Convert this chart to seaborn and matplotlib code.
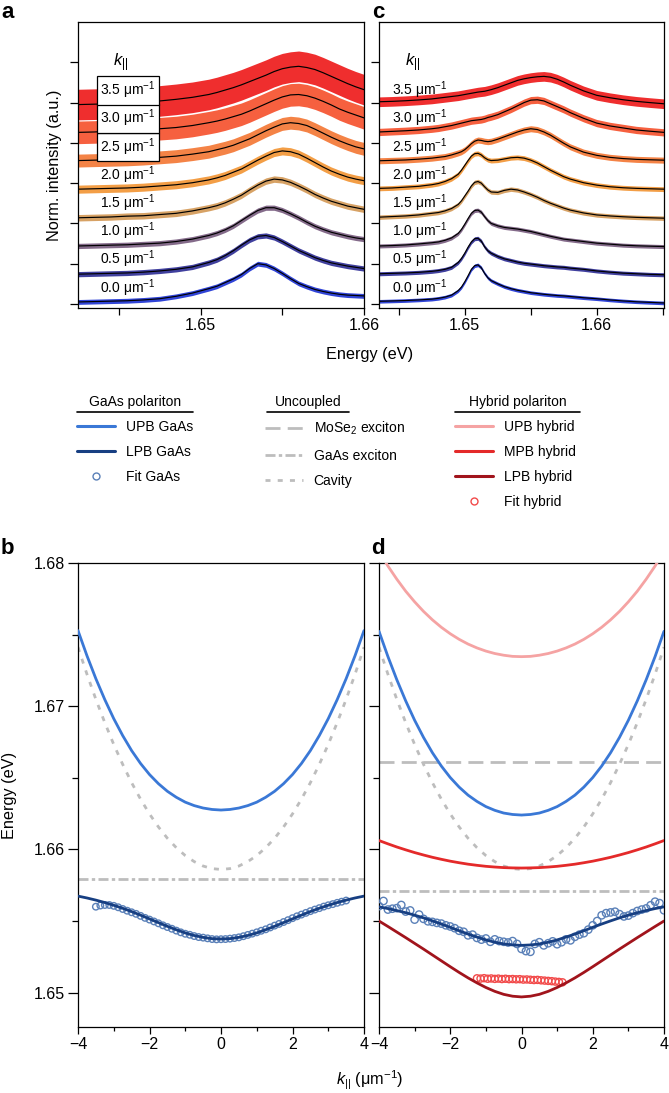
import numpy as np
import matplotlib
matplotlib.use("Agg")
import matplotlib.pyplot as plt
from matplotlib.lines import Line2D
from matplotlib.ticker import MultipleLocator, FormatStrFormatter
from matplotlib.transforms import blended_transform_factory
import seaborn as sns

sns.set_theme(style="ticks")
plt.rcParams["font.family"] = ["Liberation Sans", "DejaVu Sans"]
plt.rcParams["mathtext.fontset"] = "custom"
plt.rcParams["mathtext.rm"] = "Liberation Sans"
plt.rcParams["mathtext.it"] = "Liberation Sans:italic"
plt.rcParams["mathtext.bf"] = "Liberation Sans:bold"
plt.rcParams["axes.unicode_minus"] = True
for key in ("text.color", "axes.labelcolor", "xtick.color", "ytick.color", "axes.edgecolor"):
    plt.rcParams[key] = "black"

# ---------------- data: spectra (panel a, GaAs polariton) ----------------
k_values = ["0.0", "0.5", "1.0", "1.5", "2.0", "2.5", "3.0", "3.5"]
energy_a = [1.6425, 1.6435, 1.6445, 1.6455, 1.6465, 1.6475, 1.6485, 1.6495, 1.6505, 1.6510,
            1.6515, 1.6520, 1.6525, 1.6530, 1.6535, 1.6540, 1.6545, 1.6550, 1.6555, 1.6560,
            1.6565, 1.6570, 1.6575, 1.6580, 1.6585, 1.6590, 1.6595, 1.6600]
spec_a_00 = [0.05, 0.06, 0.07, 0.08, 0.10, 0.13, 0.19, 0.27, 0.38, 0.44, 0.53, 0.62, 0.73, 0.88, 1.00,
             0.97, 0.88, 0.76, 0.63, 0.51, 0.43, 0.36, 0.31, 0.27, 0.24, 0.22, 0.21, 0.20]
spec_a_05 = [0.04, 0.05, 0.06, 0.07, 0.09, 0.12, 0.16, 0.22, 0.33, 0.40, 0.50, 0.62, 0.76, 0.89, 0.98,
             1.00, 0.95, 0.85, 0.74, 0.63, 0.54, 0.45, 0.38, 0.32, 0.28, 0.24, 0.21, 0.18]
spec_a_10 = [0.04, 0.05, 0.06, 0.07, 0.09, 0.11, 0.15, 0.21, 0.30, 0.36, 0.44, 0.54, 0.67, 0.80, 0.92,
             0.99, 0.99, 0.93, 0.84, 0.74, 0.63, 0.53, 0.45, 0.38, 0.33, 0.28, 0.24, 0.21]
spec_a_15 = [0.04, 0.05, 0.06, 0.08, 0.09, 0.12, 0.15, 0.21, 0.29, 0.34, 0.41, 0.50, 0.60, 0.73, 0.85,
             0.95, 1.00, 0.98, 0.92, 0.83, 0.73, 0.62, 0.53, 0.45, 0.39, 0.33, 0.29, 0.25]
spec_a_20 = [0.05, 0.06, 0.07, 0.08, 0.10, 0.13, 0.16, 0.21, 0.28, 0.33, 0.39, 0.47, 0.55, 0.66, 0.77,
             0.87, 0.96, 1.00, 0.98, 0.92, 0.82, 0.71, 0.60, 0.50, 0.42, 0.35, 0.30, 0.26]
spec_a_25 = [0.06, 0.07, 0.08, 0.09, 0.11, 0.14, 0.17, 0.22, 0.28, 0.33, 0.38, 0.44, 0.52, 0.60, 0.70,
             0.80, 0.89, 0.97, 1.00, 0.98, 0.93, 0.84, 0.74, 0.64, 0.55, 0.47, 0.40, 0.35]
spec_a_30 = [0.06, 0.07, 0.09, 0.10, 0.12, 0.15, 0.18, 0.23, 0.30, 0.34, 0.39, 0.45, 0.51, 0.59, 0.68,
             0.77, 0.86, 0.94, 0.99, 1.00, 0.97, 0.91, 0.83, 0.74, 0.64, 0.56, 0.49, 0.42]
spec_a_35 = [0.05, 0.06, 0.07, 0.09, 0.11, 0.14, 0.18, 0.23, 0.30, 0.35, 0.41, 0.47, 0.54, 0.62, 0.70,
             0.78, 0.87, 0.94, 0.98, 1.00, 0.97, 0.92, 0.84, 0.75, 0.66, 0.57, 0.49, 0.42]
noise_a = [0.06, 0.065, 0.065, 0.08, 0.10, 0.16, 0.28, 0.38]

# ---------------- data: spectra (panel c, hybrid polariton) ----------------
energy_c = [1.6435, 1.6445, 1.6455, 1.6465, 1.6475, 1.6480, 1.6485, 1.6490, 1.6495, 1.64975,
            1.6500, 1.65025, 1.6505, 1.65075, 1.6510, 1.65125, 1.6515, 1.65175, 1.6520, 1.6525,
            1.6530, 1.6535, 1.6540, 1.6545, 1.6550, 1.6555, 1.6560, 1.6565, 1.6570, 1.6575,
            1.6580, 1.6590, 1.6600, 1.6610, 1.6620, 1.6630, 1.6640, 1.6651]
spec_c_00 = [0.066, 0.075, 0.085, 0.10, 0.12, 0.14, 0.17, 0.22, 0.33, 0.42, 0.55, 0.70, 0.86, 0.95, 0.97,
             0.90, 0.76, 0.65, 0.58, 0.50, 0.43, 0.38, 0.34, 0.31, 0.28, 0.26, 0.24, 0.225, 0.21, 0.20,
             0.185, 0.155, 0.13, 0.10, 0.075, 0.055, 0.04, 0.025]
spec_c_05 = [0.05, 0.06, 0.07, 0.085, 0.11, 0.13, 0.16, 0.21, 0.33, 0.43, 0.56, 0.71, 0.84, 0.92, 0.93,
             0.86, 0.72, 0.62, 0.56, 0.48, 0.42, 0.38, 0.34, 0.31, 0.29, 0.27, 0.25, 0.235, 0.22, 0.21,
             0.19, 0.16, 0.12, 0.09, 0.065, 0.05, 0.035, 0.025]
spec_c_10 = [0.04, 0.05, 0.065, 0.09, 0.12, 0.14, 0.18, 0.24, 0.35, 0.45, 0.58, 0.72, 0.85, 0.92, 0.93,
             0.88, 0.77, 0.67, 0.60, 0.54, 0.50, 0.48, 0.46, 0.43, 0.40, 0.36, 0.32, 0.28, 0.245, 0.21,
             0.19, 0.15, 0.11, 0.085, 0.06, 0.045, 0.035, 0.025]
spec_c_15 = [0.055, 0.07, 0.085, 0.11, 0.15, 0.17, 0.21, 0.27, 0.37, 0.46, 0.58, 0.70, 0.83, 0.92, 0.94,
             0.90, 0.81, 0.73, 0.68, 0.67, 0.72, 0.75, 0.73, 0.68, 0.62, 0.55, 0.47, 0.40, 0.34, 0.28,
             0.23, 0.16, 0.11, 0.085, 0.065, 0.05, 0.04, 0.03]
spec_c_20 = [0.07, 0.08, 0.10, 0.12, 0.16, 0.19, 0.24, 0.31, 0.42, 0.52, 0.64, 0.76, 0.87, 0.93, 0.94,
             0.90, 0.83, 0.78, 0.76, 0.77, 0.80, 0.83, 0.84, 0.82, 0.77, 0.70, 0.61, 0.52, 0.44, 0.36,
             0.30, 0.21, 0.15, 0.11, 0.085, 0.07, 0.06, 0.05]
spec_c_25 = [0.055, 0.065, 0.075, 0.095, 0.12, 0.14, 0.16, 0.20, 0.25, 0.28, 0.33, 0.40, 0.48, 0.54, 0.57,
             0.56, 0.54, 0.53, 0.54, 0.59, 0.65, 0.71, 0.77, 0.82, 0.85, 0.83, 0.77, 0.69, 0.59, 0.49,
             0.40, 0.27, 0.19, 0.14, 0.11, 0.09, 0.08, 0.07]
spec_c_30 = [0.07, 0.085, 0.10, 0.12, 0.15, 0.17, 0.20, 0.23, 0.27, 0.29, 0.31, 0.33, 0.35, 0.36, 0.37,
             0.38, 0.40, 0.43, 0.45, 0.50, 0.57, 0.64, 0.72, 0.80, 0.86, 0.87, 0.84, 0.77, 0.70, 0.63,
             0.55, 0.41, 0.29, 0.22, 0.17, 0.12, 0.09, 0.06]
spec_c_35 = [0.12, 0.13, 0.145, 0.165, 0.19, 0.21, 0.23, 0.25, 0.27, 0.285, 0.30, 0.315, 0.33, 0.345, 0.36,
             0.37, 0.38, 0.40, 0.42, 0.47, 0.53, 0.59, 0.65, 0.69, 0.72, 0.74, 0.75, 0.73, 0.68, 0.61,
             0.53, 0.39, 0.28, 0.22, 0.17, 0.13, 0.10, 0.07]
noise_c = [0.045, 0.05, 0.05, 0.055, 0.06, 0.075, 0.09, 0.12]

# ---------------- data: dispersions (panels b, d) ----------------
k_grid = [-4.0, -3.75, -3.5, -3.25, -3.0, -2.75, -2.5, -2.25, -2.0, -1.75, -1.5, -1.25, -1.0,
          -0.75, -0.5, -0.25, 0.0, 0.25, 0.5, 0.75, 1.0, 1.25, 1.5, 1.75, 2.0, 2.25, 2.5, 2.75,
          3.0, 3.25, 3.5, 3.75, 4.0]
cavity = [1.67412, 1.67224, 1.67048, 1.66885, 1.66733, 1.66594, 1.66466, 1.66351, 1.66248, 1.66157,
          1.66078, 1.66012, 1.65957, 1.65915, 1.65884, 1.65866, 1.65860, 1.65866, 1.65884, 1.65915,
          1.65957, 1.66012, 1.66078, 1.66157, 1.66248, 1.66351, 1.66466, 1.66594, 1.66733, 1.66885,
          1.67048, 1.67224, 1.67412]
upb_gaas_b = [1.67528, 1.67353, 1.67192, 1.67046, 1.66913, 1.66795, 1.66690, 1.66600, 1.66523, 1.66459,
              1.66406, 1.66364, 1.66330, 1.66306, 1.66289, 1.66279, 1.66275, 1.66279, 1.66289, 1.66306,
              1.66330, 1.66364, 1.66406, 1.66459, 1.66523, 1.66600, 1.66690, 1.66795, 1.66913, 1.67046,
              1.67192, 1.67353, 1.67528]
lpb_gaas_b = [1.65674, 1.65661, 1.65646, 1.65629, 1.65610, 1.65589, 1.65566, 1.65541, 1.65515, 1.65489,
              1.65463, 1.65439, 1.65417, 1.65399, 1.65386, 1.65377, 1.65375, 1.65377, 1.65386, 1.65399,
              1.65417, 1.65439, 1.65463, 1.65489, 1.65515, 1.65541, 1.65566, 1.65589, 1.65610, 1.65629,
              1.65646, 1.65661, 1.65674]
upb_gaas_d = [1.67523, 1.67347, 1.67185, 1.67037, 1.66902, 1.66782, 1.66675, 1.66582, 1.66502, 1.66435,
              1.66379, 1.66335, 1.66299, 1.66273, 1.66254, 1.66244, 1.66240, 1.66244, 1.66254, 1.66273,
              1.66299, 1.66335, 1.66379, 1.66435, 1.66502, 1.66582, 1.66675, 1.66782, 1.66902, 1.67037,
              1.67185, 1.67347, 1.67523]
lpb_gaas_d = [1.65599, 1.65587, 1.65573, 1.65558, 1.65541, 1.65522, 1.65501, 1.65479, 1.65456, 1.65432,
              1.65409, 1.65388, 1.65368, 1.65352, 1.65340, 1.65333, 1.65330, 1.65333, 1.65340, 1.65352,
              1.65368, 1.65388, 1.65409, 1.65432, 1.65456, 1.65479, 1.65501, 1.65522, 1.65541, 1.65558,
              1.65573, 1.65587, 1.65599]
upb_hybrid = [1.68082, 1.67979, 1.67887, 1.67803, 1.67729, 1.67662, 1.67603, 1.67551, 1.67506, 1.67467,
              1.67434, 1.67407, 1.67385, 1.67368, 1.67356, 1.67348, 1.67346, 1.67348, 1.67356, 1.67368,
              1.67385, 1.67407, 1.67434, 1.67467, 1.67506, 1.67551, 1.67603, 1.67662, 1.67729, 1.67803,
              1.67887, 1.67979, 1.68082]
mpb_hybrid = [1.66062, 1.66039, 1.66017, 1.65997, 1.65978, 1.65961, 1.65945, 1.65931, 1.65918, 1.65907,
              1.65897, 1.65889, 1.65882, 1.65877, 1.65873, 1.65871, 1.65870, 1.65871, 1.65873, 1.65877,
              1.65882, 1.65889, 1.65897, 1.65907, 1.65918, 1.65931, 1.65945, 1.65961, 1.65978, 1.65997,
              1.66017, 1.66039, 1.66062]
lpb_hybrid = [1.65500, 1.65462, 1.65423, 1.65384, 1.65344, 1.65304, 1.65263, 1.65222, 1.65181, 1.65141,
              1.65103, 1.65068, 1.65036, 1.65009, 1.64988, 1.64975, 1.64970, 1.64975, 1.64988, 1.65009,
              1.65036, 1.65068, 1.65103, 1.65141, 1.65181, 1.65222, 1.65263, 1.65304, 1.65344, 1.65384,
              1.65423, 1.65462, 1.65500]
gaas_exciton_b = 1.6579
gaas_exciton_d = 1.6571
mose2_exciton_d = 1.6661

k_fit_b = [-3.5, -3.375, -3.25, -3.125, -3.0, -2.875, -2.75, -2.625, -2.5, -2.375, -2.25, -2.125,
           -2.0, -1.875, -1.75, -1.625, -1.5, -1.375, -1.25, -1.125, -1.0, -0.875, -0.75, -0.625,
           -0.5, -0.375, -0.25, -0.125, 0.0, 0.125, 0.25, 0.375, 0.5, 0.625, 0.75, 0.875, 1.0,
           1.125, 1.25, 1.375, 1.5, 1.625, 1.75, 1.875, 2.0, 2.125, 2.25, 2.375, 2.5, 2.625, 2.75,
           2.875, 3.0, 3.125, 3.25, 3.375, 3.5]
fit_gaas_b = [1.65600, 1.65608, 1.65612, 1.65612, 1.65606, 1.65596, 1.65584, 1.65572, 1.65561, 1.65550,
              1.65536, 1.65522, 1.65510, 1.65497, 1.65484, 1.65470, 1.65458, 1.65446, 1.65433, 1.65421,
              1.65411, 1.65404, 1.65395, 1.65388, 1.65384, 1.65379, 1.65374, 1.65372, 1.65373, 1.65374,
              1.65377, 1.65381, 1.65386, 1.65394, 1.65403, 1.65412, 1.65421, 1.65432, 1.65442, 1.65455,
              1.65468, 1.65480, 1.65493, 1.65506, 1.65520, 1.65533, 1.65545, 1.65557, 1.65569, 1.65580,
              1.65590, 1.65601, 1.65610, 1.65618, 1.65627, 1.65635, 1.65643]

k_fit_d = [-4.0, -3.875, -3.75, -3.625, -3.5, -3.375, -3.25, -3.125, -3.0, -2.875, -2.75, -2.625,
           -2.5, -2.375, -2.25, -2.125, -2.0, -1.875, -1.75, -1.625, -1.5, -1.375, -1.25, -1.125,
           -1.0, -0.875, -0.75, -0.625, -0.5, -0.375, -0.25, -0.125, 0.0, 0.125, 0.25, 0.375, 0.5,
           0.625, 0.75, 0.875, 1.0, 1.125, 1.25, 1.375, 1.5, 1.625, 1.75, 1.875, 2.0, 2.125, 2.25,
           2.375, 2.5, 2.625, 2.75, 2.875, 3.0, 3.125, 3.25, 3.375, 3.5, 3.625, 3.75, 3.875, 4.0]
fit_gaas_d = [1.65604, 1.65640, 1.65580, 1.65586, 1.65590, 1.65612, 1.65566, 1.65574, 1.65510, 1.65545,
              1.65515, 1.65498, 1.65494, 1.65487, 1.65482, 1.65470, 1.65462, 1.65450, 1.65432, 1.65425,
              1.65400, 1.65405, 1.65382, 1.65370, 1.65378, 1.65355, 1.65372, 1.65360, 1.65355, 1.65350,
              1.65360, 1.65340, 1.65305, 1.65290, 1.65285, 1.65340, 1.65352, 1.65330, 1.65345, 1.65358,
              1.65338, 1.65352, 1.65372, 1.65365, 1.65390, 1.65405, 1.65415, 1.65440, 1.65470, 1.65500,
              1.65540, 1.65555, 1.65560, 1.65565, 1.65548, 1.65532, 1.65538, 1.65555, 1.65570, 1.65580,
              1.65588, 1.65610, 1.65635, 1.65625, 1.65575]

k_fit_hyb = [-1.25, -1.15, -1.05, -0.95, -0.85, -0.75, -0.65, -0.55, -0.45, -0.35, -0.25, -0.15,
             -0.05, 0.05, 0.15, 0.25, 0.35, 0.45, 0.55, 0.65, 0.75, 0.85, 0.95, 1.05, 1.15]
fit_hybrid = [1.65100, 1.65098, 1.65101, 1.65097, 1.65099, 1.65096, 1.65098, 1.65095, 1.65097, 1.65094,
              1.65095, 1.65093, 1.65094, 1.65091, 1.65092, 1.65090, 1.65088, 1.65089, 1.65086, 1.65084,
              1.65082, 1.65080, 1.65077, 1.65075, 1.65072]

legend_gaas = ["UPB GaAs", "LPB GaAs", "Fit GaAs"]
legend_unc = ["MoSe$_2$ exciton", "GaAs exciton", "Cavity"]
legend_hyb = ["UPB hybrid", "MPB hybrid", "LPB hybrid", "Fit hybrid"]

# ---------------- styles ----------------
trace_colors = ["#1e34d4", "#302f96", "#7a5e80", "#d49a58", "#f29636", "#f47836", "#f6522e", "#ee1c1c"]
UPB_GAAS, LPB_GAAS, FIT_GAAS = "#3a78d6", "#173f82", "#5a80b8"
UPB_HYB, MPB_HYB, LPB_HYB, FIT_HYB = "#f5a3a3", "#e42a2a", "#a1141c", "#f24a4a"
GREY = "#bdbdbd"
LS_MOSE2 = (0, (5.4, 2.6))
LS_GAASX = (0, (3.6, 1.2, 1.2, 1.2))
LS_CAV = (0, (1.8, 2.6))
OFFSET = 0.7

W, H = 669, 1093
fig = plt.figure(figsize=(W / 100, H / 100), dpi=100)


def box(l, t, r, b):
    return [l / W, 1 - b / H, (r - l) / W, (b - t) / H]


ax_a = fig.add_axes(box(78, 22, 364, 308))
ax_c = fig.add_axes(box(379, 22, 664, 308))
ax_b = fig.add_axes(box(78, 563, 364, 1027))
ax_d = fig.add_axes(box(379, 563, 664, 1027))

for ax in (ax_a, ax_b, ax_c, ax_d):
    for s in ax.spines.values():
        s.set_visible(True)
        s.set_color("black")
        s.set_linewidth(0.9)
    ax.tick_params(axis="both", which="both", direction="out", color="black", width=0.9,
                   labelsize=11.5, pad=2.5, labelcolor="black")
    ax.tick_params(axis="both", which="major", length=5)
    ax.tick_params(axis="both", which="minor", length=3)


def draw_spectra(ax, energy, traces, noise, label_x, boxed, xlim):
    trans = blended_transform_factory(ax.transAxes, ax.transData)
    for i, (vals, col) in enumerate(zip(traces, trace_colors)):
        y = np.asarray(vals) + OFFSET * i
        ax.fill_between(energy, y - noise[i], y + noise[i], color=col, lw=0, alpha=0.92, zorder=2)
        sns.lineplot(x=energy, y=y, ax=ax, color="black", lw=0.85, zorder=10)
        t = ax.text(label_x, OFFSET * i + 0.40, f"{k_values[i]} μm$^{{-1}}$", transform=trans,
                    fontsize=10, va="center", ha="left", zorder=30)
        if boxed and i >= 5:
            t.set_bbox(dict(boxstyle="square,pad=0.25", fc="white", ec="black", lw=0.9))
    ax.set_xlim(*xlim)
    ax.set_ylim(-0.1, 7.0)
    ax.set_yticks(range(7))
    ax.tick_params(axis="y", labelleft=False, length=6)
    ax.xaxis.set_major_locator(MultipleLocator(0.01))
    ax.xaxis.set_minor_locator(MultipleLocator(0.005))
    ax.xaxis.set_major_formatter(FormatStrFormatter("%.2f"))
    ax.tick_params(axis="x", which="minor", length=5)
    ax.set_xlabel("")
    ax.set_ylabel("")


draw_spectra(ax_a, energy_a, [spec_a_00, spec_a_05, spec_a_10, spec_a_15, spec_a_20, spec_a_25,
                              spec_a_30, spec_a_35], noise_a, 0.077, True, (1.6425, 1.6600))
draw_spectra(ax_c, energy_c, [spec_c_00, spec_c_05, spec_c_10, spec_c_15, spec_c_20, spec_c_25,
                              spec_c_30, spec_c_35], noise_c, 0.046, False, (1.6435, 1.6651))
ax_a.text(0.122, 6.0, r"$\mathit{k}_{||}$", transform=blended_transform_factory(ax_a.transAxes, ax_a.transData),
          fontsize=12, va="center", ha="left")
ax_c.text(0.091, 6.0, r"$\mathit{k}_{||}$", transform=blended_transform_factory(ax_c.transAxes, ax_c.transData),
          fontsize=12, va="center", ha="left")


def disp_axes(ax, show_labels):
    ax.set_xlim(-4, 4)
    ax.set_ylim(1.6476, 1.68)
    ax.set_xticks([-4, -2, 0, 2, 4])
    ax.xaxis.set_minor_locator(MultipleLocator(1))
    ax.set_yticks([1.65, 1.66, 1.67, 1.68])
    ax.yaxis.set_minor_locator(MultipleLocator(0.005))
    ax.yaxis.set_major_formatter(FormatStrFormatter("%.2f"))
    ax.tick_params(axis="y", which="major", length=7)
    ax.tick_params(axis="y", which="minor", length=4)
    ax.tick_params(axis="y", labelleft=show_labels)
    ax.set_xlabel("")
    ax.set_ylabel("")


# panel b
sns.lineplot(x=k_grid, y=cavity, ax=ax_b, color=GREY, lw=2.0, linestyle=LS_CAV, zorder=2)
ax_b.axhline(gaas_exciton_b, color=GREY, lw=2.0, linestyle=LS_GAASX, zorder=2)
sns.scatterplot(x=k_fit_b, y=fit_gaas_b, ax=ax_b, marker="o", s=22, facecolor="none",
                edgecolor=FIT_GAAS, linewidth=1.0, zorder=4)
sns.lineplot(x=k_grid, y=upb_gaas_b, ax=ax_b, color=UPB_GAAS, lw=2.0, zorder=5)
sns.lineplot(x=k_grid, y=lpb_gaas_b, ax=ax_b, color=LPB_GAAS, lw=2.0, zorder=5)
disp_axes(ax_b, True)

# panel d
sns.lineplot(x=k_grid, y=cavity, ax=ax_d, color=GREY, lw=2.0, linestyle=LS_CAV, zorder=2)
ax_d.axhline(mose2_exciton_d, color=GREY, lw=2.0, linestyle=LS_MOSE2, zorder=2)
ax_d.axhline(gaas_exciton_d, color=GREY, lw=2.0, linestyle=LS_GAASX, zorder=2)
sns.scatterplot(x=k_fit_d, y=fit_gaas_d, ax=ax_d, marker="o", s=28, facecolor="none",
                edgecolor=FIT_GAAS, linewidth=1.0, zorder=4)
sns.scatterplot(x=k_fit_hyb, y=fit_hybrid, ax=ax_d, marker="o", s=26, facecolor="none",
                edgecolor=FIT_HYB, linewidth=1.0, zorder=4)
sns.lineplot(x=k_grid, y=upb_gaas_d, ax=ax_d, color=UPB_GAAS, lw=2.0, zorder=5)
sns.lineplot(x=k_grid, y=lpb_gaas_d, ax=ax_d, color=LPB_GAAS, lw=2.0, zorder=5)
sns.lineplot(x=k_grid, y=upb_hybrid, ax=ax_d, color=UPB_HYB, lw=2.0, zorder=5)
sns.lineplot(x=k_grid, y=mpb_hybrid, ax=ax_d, color=MPB_HYB, lw=2.0, zorder=5)
sns.lineplot(x=k_grid, y=lpb_hybrid, ax=ax_d, color=LPB_HYB, lw=2.0, zorder=5)
disp_axes(ax_d, False)

# axis labels and panel letters
fig.text(370 / W, 1 - 355 / H, "Energy (eV)", ha="center", va="center", fontsize=11.7)
fig.text(55 / W, 1 - 165 / H, "Norm. intensity (a.u.)", ha="center", va="center", rotation=90, fontsize=11.7)
fig.text(10 / W, 1 - 795 / H, "Energy (eV)", ha="center", va="center", rotation=90, fontsize=11.7)
fig.text(370 / W, 1 - 1080 / H, r"$\mathit{k}_{||}$ (μm$^{-1}$)", ha="center", va="center", fontsize=11.7)
for letter, x, y in (("a", 1, 18), ("c", 372, 18), ("b", 1, 554), ("d", 371, 554)):
    fig.text(x / W, 1 - y / H, letter, ha="left", va="baseline", fontsize=16, fontweight="bold")


# legends
def legend_group(handles, labels, x_px, y_px, title, tx, ux0, ux1):
    fig.legend(handles, labels, loc="upper left", bbox_to_anchor=(x_px / W, 1 - y_px / H),
               bbox_transform=fig.transFigure, frameon=False, fontsize=10, handlelength=2.75,
               handletextpad=0.75, labelspacing=0.8, borderpad=0, borderaxespad=0)
    fig.text(tx / W, 1 - 402 / H, title, ha="center", va="center", fontsize=10)
    fig.add_artist(Line2D([ux0 / W, ux1 / W], [1 - 412 / H, 1 - 412 / H], transform=fig.transFigure,
                          color="black", lw=1.2))


h_gaas = [Line2D([], [], color=UPB_GAAS, lw=2.2), Line2D([], [], color=LPB_GAAS, lw=2.2),
          Line2D([], [], color=FIT_GAAS, ls="none", marker="o", mfc="none", ms=5, mew=1)]
h_unc = [Line2D([], [], color=GREY, lw=2.0, ls=LS_MOSE2), Line2D([], [], color=GREY, lw=2.0, ls=LS_GAASX),
         Line2D([], [], color=GREY, lw=2.0, ls=LS_CAV)]
h_hyb = [Line2D([], [], color=UPB_HYB, lw=2.2), Line2D([], [], color=MPB_HYB, lw=2.2),
         Line2D([], [], color=LPB_HYB, lw=2.2),
         Line2D([], [], color=FIT_HYB, ls="none", marker="o", mfc="none", ms=5, mew=1)]
legend_group(h_gaas, legend_gaas, 77, 420, "GaAs polariton", 135, 77, 193)
legend_group(h_unc, legend_unc, 265, 420, "Uncoupled", 308, 267, 349)
legend_group(h_hyb, legend_hyb, 455, 420, "Hybrid polariton", 518, 455, 580)

fig.savefig("out.png", dpi=100)
